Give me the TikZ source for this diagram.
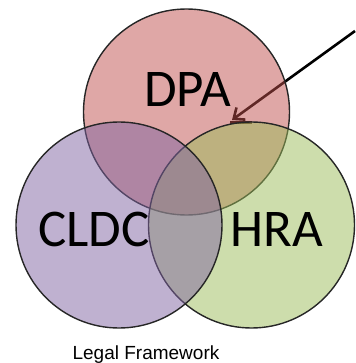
\documentclass[tikz,border=0pt]{standalone}
\usepackage{fontspec}
\usetikzlibrary{arrows.meta, positioning}

\newfontfamily\vennfont{Carlito}
\newfontfamily\capfont{Liberation Sans}

\definecolor{dpared}{RGB}{192,80,77}
\definecolor{cldcpurple}{RGB}{128,100,162}
\definecolor{hragreen}{RGB}{155,187,89}

\begin{document}
\begin{tikzpicture}[x=1pt, y=-1pt, >=latex,
  venn/.style={circle, draw=black!85, line width=1.4pt, minimum size=206pt, inner sep=0pt, fill opacity=0.5},
  lawname/.style={font=\vennfont\fontsize{53}{60}\selectfont, anchor=base, inner sep=0pt}]

\useasboundingbox (0,0) rectangle (355,363);

% pointer first, so the circles tint it
\coordinate (pointer-start) at (355,31);
\coordinate (pointer-end) at (232,120);
\fill[black] (230,121) rectangle (252,124.5);
\draw[line width=2.6pt, -{Straight Barb[length=9pt,width=15pt]}] (pointer-start) -- (pointer-end);

% the three acts
\node[venn, fill=dpared] (dpa) at (186.5,112) {};
\node[venn, fill=hragreen] (hra) at (251.5,225) {};
\node[venn, fill=cldcpurple] (cldc) at (119,225) {};

\node[lawname] (dpa-label) at (187.5,107) {DPA};
\node[lawname] (cldc-label) at (94,246) {CLDC};
\node[lawname] (hra-label) at (276.5,246) {HRA};

\node[font=\capfont\fontsize{19}{22}\selectfont, anchor=base, inner sep=0pt] (caption) at (146,359) {Legal Framework};

\end{tikzpicture}
\end{document}
